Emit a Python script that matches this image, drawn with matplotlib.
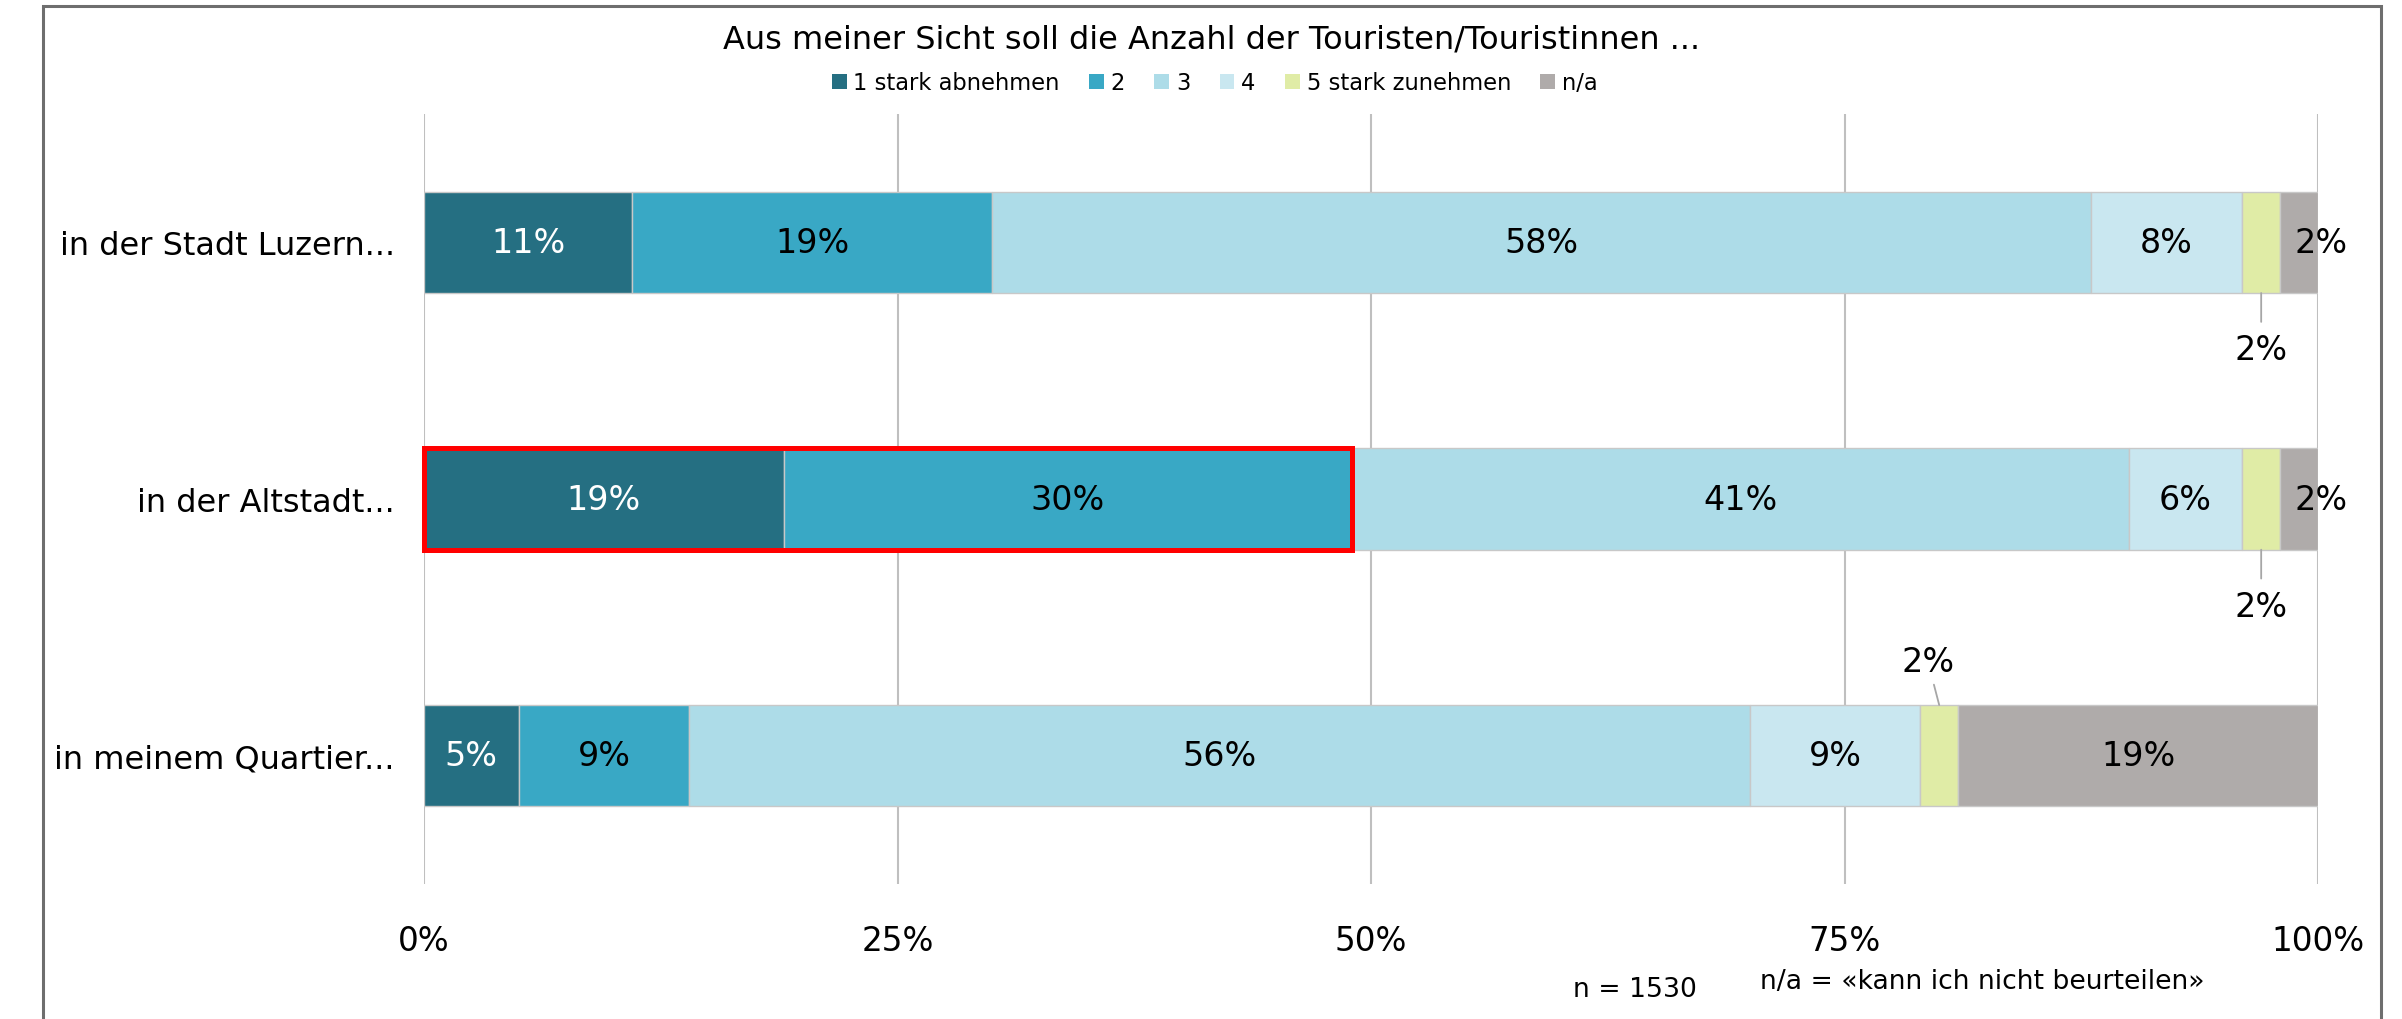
import matplotlib
matplotlib.use("Agg")
import matplotlib.pyplot as plt
from matplotlib.patches import Rectangle
import numpy as np

plt.rcParams['font.family'] = ['DejaVu Sans']

# ---------------- data ----------------
categories = ["in der Stadt Luzern...", "in der Altstadt...", "in meinem Quartier..."]
series_names = ["1 stark abnehmen", "2", "3", "4", "5 stark zunehmen", "n/a"]
s1 = [11, 19, 5]
s2 = [19, 30, 9]
s3 = [58, 41, 56]
s4 = [8, 6, 9]
s5 = [2, 2, 2]
sna = [2, 2, 19]
tick_values = [0, 25, 50, 75, 100]
tick_labels = ["0%", "25%", "50%", "75%", "100%"]
title = "Aus meiner Sicht soll die Anzahl der Touristen/Touristinnen ..."
note_n = "n = 1530"
note_na = "n/a = «kann ich nicht beurteilen»"
highlight_row = 1

colors = ["#256F82", "#39A8C5", "#ADDCE8", "#C9E7F0", "#E0ECA6", "#AFABAA"]
label_colors = ["white", "black", "black", "black", "black", "black"]

series = [s1, s2, s3, s4, s5, sna]

W, H = 2402, 1020
fig = plt.figure(figsize=(W / 100, H / 100), dpi=100)
ax = fig.add_axes([424 / W, 1 - 885 / H, (2318 - 424) / W, (885 - 115) / H])

LBL = 24
y = np.arange(len(categories))
bar_h = 0.395
left = np.zeros(len(categories))
for k, (vals, col) in enumerate(zip(series, colors)):
    vals = np.array(vals, dtype=float)
    ax.barh(y, vals, left=left, height=bar_h, color=col, edgecolor="#C8C8C8",
            linewidth=1.0, label=series_names[k], zorder=2)
    for i, v in enumerate(vals):
        cx = left[i] + v / 2
        txt = f"{int(v)}%"
        if k == 4:
            # small segment: label outside with leader line
            if i < 2:
                ax.annotate(txt, xy=(cx, y[i] + bar_h / 2), xytext=(cx, y[i] + bar_h / 2 + 0.22),
                            ha="center", va="center", fontsize=LBL, color="black",
                            arrowprops=dict(arrowstyle="-", color="#A6A6A6", lw=1.3,
                                            shrinkA=6, shrinkB=0), zorder=5)
            else:
                ax.annotate(txt, xy=(cx, y[i] - bar_h / 2), xytext=(cx - 0.6, y[i] - bar_h / 2 - 0.17),
                            ha="center", va="center", fontsize=LBL, color="black",
                            arrowprops=dict(arrowstyle="-", color="#A6A6A6", lw=1.3,
                                            shrinkA=3, shrinkB=0), zorder=5)
        elif k == 5 and v < 5:
            ax.text(left[i] + v + 0.15, y[i], txt, ha="center", va="center", fontsize=LBL,
                    color="black", zorder=5, clip_on=False)
        else:
            ax.text(cx, y[i], txt, ha="center", va="center", fontsize=LBL,
                    color=label_colors[k], zorder=5)
    left = left + vals

# red highlight box around first two segments of the highlighted row
hl_w = s1[highlight_row] + s2[highlight_row]
ax.add_patch(Rectangle((0, highlight_row - bar_h / 2), hl_w, bar_h, fill=False,
                       edgecolor="#FF0000", linewidth=3.6, zorder=6, clip_on=False))

ax.set_xlim(0, 100)
ax.set_ylim(len(categories) - 0.5, -0.5)
ax.set_xticks(tick_values)
ax.set_xticklabels(tick_labels)
ax.set_yticks(y)
ax.set_yticklabels(categories)
ax.tick_params(axis="x", length=0, pad=29, labelsize=23.5)
ax.tick_params(axis="y", length=0, pad=21, labelsize=23)
for sp in ax.spines.values():
    sp.set_visible(False)
ax.xaxis.grid(True, color="#BFBFBF", linewidth=1.5, zorder=0)
ax.set_axisbelow(True)

# title and legend
fig.text(0.5045, 1 - 40 / H, title, ha="center", va="center", fontsize=23)
handles = [Rectangle((0, 0), 1, 1, facecolor=c, edgecolor="none") for c in colors]
fig.legend(handles, series_names, loc="center", bbox_to_anchor=(0.5057, 1 - 84 / H),
           ncol=6, frameon=False, fontsize=16.3, handlelength=0.65, handleheight=0.65,
           handletextpad=0.3, columnspacing=1.3)

# notes
fig.text(1635 / W, 1 - 990 / H, note_n, ha="center", va="center", fontsize=19.2)
fig.text(1982 / W, 1 - 982 / H, note_na, ha="center", va="center", fontsize=19.2)

# outer frame
fig.patches.append(Rectangle((43 / W, -0.05), (2381 - 43) / W, 1.05 - 7 / H,
                             transform=fig.transFigure, fill=False,
                             edgecolor="#6E6E6E", linewidth=2.2, zorder=10))

fig.savefig("out.png", dpi=100, facecolor="white")
